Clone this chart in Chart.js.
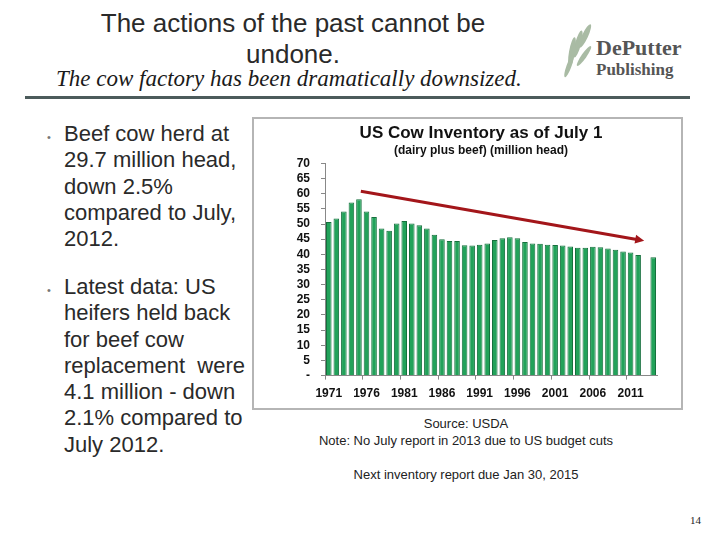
<!DOCTYPE html>
<html>
<head>
<meta charset="utf-8">
<script src="https://cdn.jsdelivr.net/npm/chart.js@4.4.1/dist/chart.umd.min.js"></script>
<style>
    body { margin: 0; width: 720px; height: 540px; background: #fff; position: relative; overflow: hidden; font-family: "Liberation Sans", Arial, sans-serif; color: #222; }
    .abs { position: absolute; }
    #title { left: 78px; top: 8px; width: 430px; text-align: center; font-size: 26px; line-height: 31px; color: #2a2a2a; }
    #subtitle { left: 56px; top: 66px; font-family: "Liberation Serif", serif; font-style: italic; font-size: 23px; color: #1a1a1a; }
    #rule { left: 25px; top: 96px; width: 665px; height: 3px; background: #4c5b5b; }
    #logo-text { left: 596px; top: 38px; font-family: "Liberation Serif", serif; font-weight: bold; color: #555; line-height: 20px; }
    .bullets { left: 28px; font-size: 22px; line-height: 26.3px; color: #2a2a2a; }
    .bullets .dot { position: absolute; left: 19px; font-size: 11px; color: #777; }
    .bullets .txt { position: absolute; left: 36px; width: 184px; }
    #chart-box { left: 252px; top: 117px; width: 431px; height: 293px; border: 2px solid #b5b5b5; box-sizing: border-box; }
    .note { width: 440px; left: 246px; text-align: center; font-size: 13px; color: #222; }
    #page { left: 690px; top: 514px; font-family: "Liberation Serif", serif; font-size: 11px; }
</style>
</head>
<body>
<div id="title" class="abs">The actions of the past cannot be undone.</div>
<div id="subtitle" class="abs">The cow factory has been dramatically downsized.</div>
<div id="rule" class="abs"></div>

<svg class="abs" style="left:560px;top:22px" width="40" height="62">
    <g fill="#a9bba4">
        <ellipse cx="25" cy="14" rx="3" ry="13" transform="rotate(25 25 14)"/>
        <ellipse cx="18" cy="22" rx="3" ry="14" transform="rotate(15 18 22)"/>
        <ellipse cx="12" cy="30" rx="3" ry="15" transform="rotate(10 12 30)"/>
        <ellipse cx="24" cy="34" rx="2.5" ry="12" transform="rotate(35 24 34)"/>
        <ellipse cx="9" cy="44" rx="2.5" ry="12" transform="rotate(20 9 44)"/>
    </g>
</svg>
<div id="logo-text" class="abs"><span style="font-size:22px">DePutter</span><br><span style="font-size:17px">Publishing</span></div>

<div class="abs bullets" style="top:121px">
    <span class="dot" style="top:3px">•</span>
    <div class="txt">Beef cow herd at 29.7 million head, down 2.5% compared to July, 2012.</div>
</div>
<div class="abs bullets" style="top:274px">
    <span class="dot" style="top:3px">•</span>
    <div class="txt">Latest data: US heifers held back for beef cow replacement&nbsp; were 4.1 million - down 2.1% compared to July 2012.</div>
</div>

<div id="chart-box" class="abs"><canvas id="cow-chart" width="427" height="289"></canvas></div>

<div class="abs note" style="top:416px">Source: USDA</div>
<div class="abs note" style="top:433px">Note: No July report in 2013 due to US budget cuts</div>
<div class="abs note" style="top:467px">Next inventory report due Jan 30, 2015</div>
<div id="page" class="abs">14</div>

<script>
// Годы (2013 - отчёта нет)
const years = [];
for (let y = 1971; y <= 2014; y++) years.push(String(y));

// Поголовье коров на 1 июля, млн голов (2013 = null)
const cowValues = [
    50.7, 51.8, 54.1, 57.1, 58.2, 54.1, 52.3, 48.5, 47.8, 50.2,
    51.0, 50.2, 49.6, 48.5, 46.5, 45.0, 44.4, 44.4, 43.0, 42.9,
    43.2, 43.6, 44.7, 45.3, 45.6, 45.3, 44.1, 43.6, 43.5, 43.2,
    43.1, 42.9, 42.6, 42.2, 42.2, 42.5, 42.3, 41.9, 41.5, 40.9,
    40.6, 39.8, null, 39.0
];

// Стрелка тренда: индексы категорий и значения
const arrowX = [4.25, 41.8];
const arrowY = [60.8, 44.5];

// Плагин для рисования стрелки по шкалам графика
const trendArrow = {
    id: 'trendArrow',
    afterDatasetsDraw(chart) {
        const { ctx, scales: { x, y } } = chart;
        const x1 = x.getPixelForValue(arrowX[0]), y1 = y.getPixelForValue(arrowY[0]);
        const x2 = x.getPixelForValue(arrowX[1]), y2 = y.getPixelForValue(arrowY[1]);
        const ang = Math.atan2(y2 - y1, x2 - x1);
        ctx.save();
        ctx.strokeStyle = '#a3161a';
        ctx.fillStyle = '#a3161a';
        ctx.lineWidth = 3;
        ctx.beginPath();
        ctx.moveTo(x1, y1);
        ctx.lineTo(x2 - 6 * Math.cos(ang), y2 - 6 * Math.sin(ang));
        ctx.stroke();
        ctx.beginPath();
        ctx.moveTo(x2, y2);
        ctx.lineTo(x2 - 9 * Math.cos(ang) + 4.5 * Math.sin(ang), y2 - 9 * Math.sin(ang) - 4.5 * Math.cos(ang));
        ctx.lineTo(x2 - 9 * Math.cos(ang) - 4.5 * Math.sin(ang), y2 - 9 * Math.sin(ang) + 4.5 * Math.cos(ang));
        ctx.closePath();
        ctx.fill();
        ctx.restore();
    }
};

const boldFont = { family: '"Liberation Sans", Arial, sans-serif', weight: 'bold', size: 12 };

new Chart(document.getElementById('cow-chart').getContext('2d'), {
    type: 'bar',
    data: {
        labels: years,
        datasets: [{
            label: 'Cows',
            data: cowValues,
            backgroundColor: '#22a25a',
            borderColor: '#16703d',
            borderWidth: 1,
            barPercentage: 0.74,
            categoryPercentage: 1.0
        }]
    },
    options: {
        responsive: false,
        animation: false,
        events: [],
        layout: { padding: { left: 35, right: 8, top: 4, bottom: 0 } },
        plugins: {
            legend: { display: false },
            tooltip: { enabled: false },
            title: {
                display: true,
                text: 'US Cow Inventory as of July 1',
                color: '#111',
                font: { family: '"Liberation Sans", Arial, sans-serif', weight: 'bold', size: 17, lineHeight: 1.0 },
                padding: { top: 2, bottom: 0 }
            },
            subtitle: {
                display: true,
                text: '(dairy plus beef) (million head)',
                color: '#111',
                font: { family: '"Liberation Sans", Arial, sans-serif', weight: 'bold', size: 12 },
                padding: { top: 1, bottom: 6 }
            }
        },
        scales: {
            x: {
                offset: true,
                grid: {
                    offset: true,
                    drawOnChartArea: false,
                    tickLength: 4,
                    color: ctx => (ctx.index % 5 === 0 ? '#888' : 'rgba(0,0,0,0)')
                },
                border: { color: '#888', width: 1 },
                ticks: {
                    autoSkip: false,
                    maxRotation: 0,
                    color: '#111',
                    font: boldFont,
                    padding: 7,
                    callback: (val, i) => (i % 5 === 0 ? years[i] : '')
                }
            },
            y: {
                min: 0,
                max: 70,
                afterFit: axis => { axis.width = 36; },
                grid: { drawOnChartArea: false, tickLength: 4, color: '#888' },
                border: { color: '#888', width: 1 },
                ticks: {
                    stepSize: 5,
                    autoSkip: false,
                    color: '#111',
                    font: boldFont,
                    padding: 11,
                    callback: v => (v === 0 ? '-' : v)
                }
            },
            // пустая правая ось, только чтобы сдвинуть заголовок как в оригинале
            yRight: {
                position: 'right',
                min: 0,
                max: 70,
                afterFit: axis => { axis.width = 16; },
                grid: { display: false },
                border: { display: false },
                ticks: { display: false }
            }
        }
    },
    plugins: [trendArrow]
});
</script>
</body>
</html>
